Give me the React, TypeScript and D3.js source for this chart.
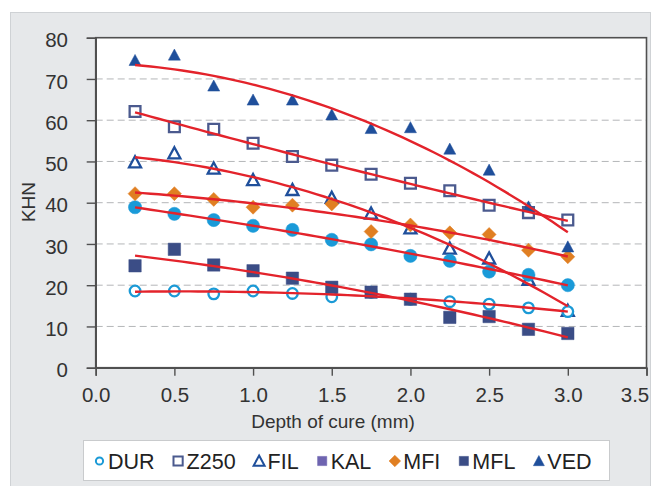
import * as d3 from "d3";
import { useEffect, useRef } from "react";

// depth of cure (mm) and KHN readings per material
const depth = [0.25, 0.5, 0.75, 1.0, 1.25, 1.5, 1.75, 2.0, 2.25, 2.5, 2.75, 3.0];
const DUR = [18.6, 18.6, 17.9, 18.6, 18.0, 17.2, 18.3, 16.6, 16.0, 15.4, 14.5, 13.6];
const Z250 = [62.1, 58.4, 57.8, 54.4, 51.2, 49.1, 46.9, 44.7, 42.9, 39.4, 37.6, 35.8];
const FIL = [49.8, 52.0, 48.3, 45.5, 43.1, 41.2, 37.4, 33.8, 28.9, 26.5, 21.3, 13.8];
const KAL = [38.9, 37.3, 35.8, 34.4, 33.4, 31.0, 29.9, 27.1, 25.9, 23.3, 22.5, 20.0];
const MFI = [42.2, 42.2, 40.8, 38.9, 39.4, 39.7, 33.0, 34.6, 32.7, 32.3, 28.5, 26.9];
const MFL = [24.7, 28.7, 24.9, 23.5, 21.7, 19.5, 18.3, 16.6, 12.2, 12.4, 9.3, 8.3];
const VED = [74.5, 75.8, 68.3, 64.9, 64.9, 61.3, 58.0, 58.2, 53.0, 47.9, 39.0, 29.3];

const seriesNames = ["DUR", "Z250", "FIL", "KAL", "MFI", "MFL", "VED"];
const seriesValues = [DUR, Z250, FIL, KAL, MFI, MFL, VED];
// paint order of the markers (DUR sits above FIL, below the filled ones)
const drawOrder = [1, 2, 0, 3, 4, 5, 6];

const xTicks = [0, 0.5, 1.0, 1.5, 2.0, 2.5, 3.0, 3.5];
const yTicks = [0, 10, 20, 30, 40, 50, 60, 70, 80];

const styles = {
  DUR: { shape: "circle", legend: "circle", color: "#1b9ad6", fill: false, size: 5.3 },
  Z250: { shape: "square", legend: "square", color: "#4b5a8e", fill: false, size: 5.4 },
  FIL: { shape: "triangle", legend: "triangle", color: "#1f4f9b", fill: false, size: 6 },
  KAL: { shape: "circle", legend: "square", color: "#1a9ad8", fill: true, size: 6.6, legendColor: "#6e64b0" },
  MFI: { shape: "diamond", legend: "diamond", color: "#e07f22", fill: true, size: 7 },
  MFL: { shape: "square", legend: "square", color: "#3b4d86", fill: true, size: 6.2 },
  VED: { shape: "triangle", legend: "triangle", color: "#1f4f9b", fill: true, size: 6 },
};

const FONT = "'Liberation Sans', Arial, sans-serif";

// least squares fit of a 2nd order polynomial (Excel style trendline)
function quadFit(xs: number[], ys: number[]) {
  const s = [0, 0, 0, 0, 0];
  const t = [0, 0, 0];
  xs.forEach((x, i) => {
    for (let k = 0; k < 5; k++) s[k] += Math.pow(x, k);
    for (let k = 0; k < 3; k++) t[k] += ys[i] * Math.pow(x, k);
  });
  const A = [
    [s[0], s[1], s[2], t[0]],
    [s[1], s[2], s[3], t[1]],
    [s[2], s[3], s[4], t[2]],
  ];
  for (let i = 0; i < 3; i++) {
    for (let j = i + 1; j < 3; j++) {
      const f = A[j][i] / A[i][i];
      for (let k = i; k < 4; k++) A[j][k] -= f * A[i][k];
    }
  }
  const c = [0, 0, 0];
  for (let i = 2; i >= 0; i--) {
    let v = A[i][3];
    for (let k = i + 1; k < 3; k++) v -= A[i][k] * c[k];
    c[i] = v / A[i][i];
  }
  return (x: number) => c[0] + c[1] * x + c[2] * x * x;
}

function markerPath(shape: string, r: number) {
  if (shape === "square") return `M${-r},${-r}H${r}V${r}H${-r}Z`;
  if (shape === "diamond") return `M0,${-r}L${r},0L0,${r}L${-r},0Z`;
  if (shape === "triangle") return `M0,${-r}L${r},${r * 0.85}L${-r},${r * 0.85}Z`;
  return d3.arc()({ innerRadius: 0, outerRadius: r, startAngle: 0, endAngle: 2 * Math.PI }) as string;
}

const legendSize = { circle: 3.6, square: 4.6, triangle: 5.5, diamond: 5.8 };

const App = () => {
  const ref = useRef<SVGSVGElement>(null);

  useEffect(() => {
    const svg = d3.select(ref.current);
    svg.selectAll("*").remove();

    const left = 95.7, right = 646.5, top = 37.7, bottom = 367.7;

    svg.append("rect")
      .attr("x", 10.5).attr("y", 12.5).attr("width", 640).attr("height", 490)
      .attr("fill", "#e6e8ea").attr("stroke", "#cfd2d5");

    const x = d3.scaleLinear().domain([0, 3.5]).range([left, right]);
    const y = d3.scaleLinear().domain([0, 80]).range([bottom, top]);

    svg.append("rect")
      .attr("x", left).attr("y", top).attr("width", right - left).attr("height", bottom - top)
      .attr("fill", "#fff");

    // grid
    svg.append("g").selectAll("line")
      .data(yTicks.filter((d) => d > 0 && d < 80))
      .enter().append("line")
      .attr("x1", left).attr("x2", right)
      .attr("y1", (d) => y(d)).attr("y2", (d) => y(d))
      .attr("stroke", "#b4b6b8").attr("stroke-width", 1)
      .attr("stroke-dasharray", "7,4");

    // plot border
    svg.append("rect")
      .attr("x", left).attr("y", top).attr("width", right - left).attr("height", bottom - top)
      .attr("fill", "none").attr("stroke", "#505050").attr("stroke-width", 1.6);

    const yAxis = svg.append("g")
      .attr("transform", `translate(${left},0)`)
      .call(d3.axisLeft(y).tickValues(yTicks).tickSize(9).tickPadding(0).tickFormat(d3.format("d")));
    yAxis.select(".domain").attr("stroke", "#505050").attr("stroke-width", 1.6);
    yAxis.selectAll(".tick line").attr("stroke", "#505050").attr("stroke-width", 1.4);
    yAxis.selectAll(".tick text")
      .attr("x", 68 - left).attr("dy", "0.45em")
      .attr("font-family", FONT).attr("font-size", 20.5).attr("fill", "#333");

    const xAxis = svg.append("g")
      .attr("transform", `translate(0,${bottom})`)
      .call(d3.axisBottom(x).tickValues(xTicks).tickSize(8).tickFormat(d3.format(".1f")));
    xAxis.select(".domain").attr("stroke", "#505050").attr("stroke-width", 1.6);
    xAxis.selectAll(".tick line").attr("stroke", "#505050").attr("stroke-width", 1.4);
    xAxis.selectAll(".tick text")
      .attr("y", 34).attr("dy", 0)
      .attr("x", (d) => (d === 3.5 ? -12 : 0))
      .attr("font-family", FONT).attr("font-size", 20.5).attr("fill", "#333");
    svg.selectAll("g").attr("font-family", FONT);

    svg.append("text")
      .attr("x", 333).attr("y", 428)
      .attr("text-anchor", "middle")
      .attr("font-family", FONT).attr("font-size", 19).attr("fill", "#333")
      .text("Depth of cure (mm)");

    svg.append("text")
      .attr("transform", "translate(35,202) rotate(-90)")
      .attr("text-anchor", "middle")
      .attr("font-family", FONT).attr("font-size", 19).attr("fill", "#333")
      .text("KHN");

    // markers
    drawOrder.forEach((si) => {
      const st = styles[seriesNames[si]];
      const pts = depth.map((d, i) => [d, seriesValues[si][i]]);
      svg.append("g").selectAll("path")
        .data(pts)
        .enter().append("path")
        .attr("transform", (p) => `translate(${x(p[0])},${y(p[1])})`)
        .attr("d", markerPath(st.shape, st.size))
        .attr("fill", st.fill ? st.color : "#fff")
        .attr("stroke", st.color)
        .attr("stroke-width", st.fill ? 0.5 : 2.3);
    });

    // trendlines
    const line = d3.line<number[]>().x((d) => x(d[0])).y((d) => y(d[1]));
    seriesValues.forEach((vals) => {
      const f = quadFit(depth, vals);
      const xs = d3.range(0.25, 3.0001, 0.05);
      svg.append("path")
        .attr("d", line(xs.map((v) => [v, f(v)])))
        .attr("fill", "none")
        .attr("stroke", "#e3232b")
        .attr("stroke-width", 2.4);
    });

    // legend
    const lg = svg.append("g");
    lg.append("rect")
      .attr("x", 83.5).attr("y", 440.5).attr("width", 526).attr("height", 40)
      .attr("fill", "#fff").attr("stroke", "#c9cbcd");
    let cx = 94;
    seriesNames.forEach((name) => {
      const st = styles[name];
      const r = legendSize[st.legend];
      const col = st.legendColor || st.color;
      lg.append("path")
        .attr("transform", `translate(${cx + 5.5},461)`)
        .attr("d", markerPath(st.legend, r))
        .attr("fill", st.fill ? col : "#fff")
        .attr("stroke", col)
        .attr("stroke-width", st.fill ? 0.5 : 2);
      const t = lg.append("text")
        .attr("x", cx + 11 + 3).attr("y", 469)
        .attr("font-family", FONT).attr("font-size", 21.5).attr("fill", "#222")
        .text(name);
      const w = (t.node() as SVGTextElement).getComputedTextLength();
      cx += 11 + 3 + w + 18;
    });
  }, []);

  return (
    <svg ref={ref} width={652} height={486}
      style={{ position: "absolute", left: 0, top: 0, background: "#fff" }} />
  );
};

export default App;
